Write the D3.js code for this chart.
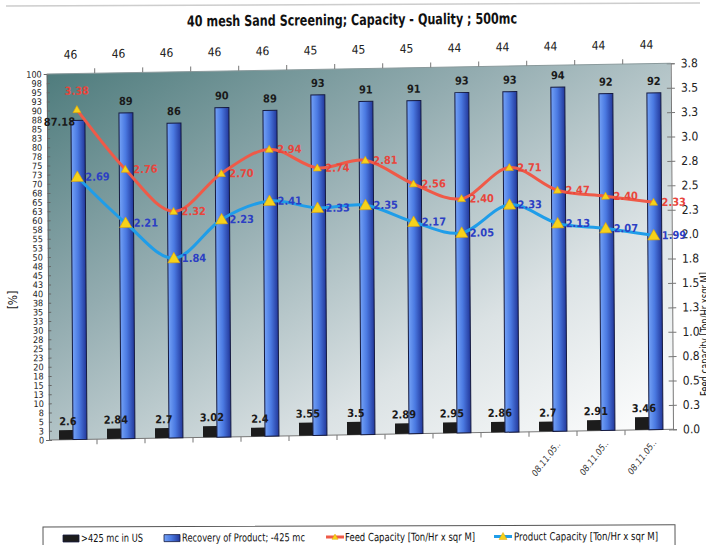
<!DOCTYPE html>
<html>
<head>
<meta charset="utf-8">
<script src="https://cdn.jsdelivr.net/npm/d3@7/dist/d3.min.js"></script>
<style>
  body { margin: 0; background: #fff; }
  svg { display: block; }
</style>
</head>
<body>
<div id="chart"></div>
<script>
// chart data
var categories = ['', '', '', '', '', '', '', '', '', '', '08.11.05..', '08.11.05..', '08.11.05..'];
var topLabels = [46, 46, 46, 46, 46, 45, 45, 45, 44, 44, 44, 44, 44];
var oversize = [2.6, 2.84, 2.7, 3.02, 2.4, 3.55, 3.5, 2.89, 2.95, 2.86, 2.7, 2.91, 3.46];
var recovery = [87.18, 89, 86, 90, 89, 93, 91, 91, 93, 93, 94, 92, 92];
var feedCapacity = [3.38, 2.76, 2.32, 2.70, 2.94, 2.74, 2.81, 2.56, 2.40, 2.71, 2.47, 2.40, 2.33];
var productCapacity = [2.69, 2.21, 1.84, 2.23, 2.41, 2.33, 2.35, 2.17, 2.05, 2.33, 2.13, 2.07, 1.99];
var legendNames = ['>425 mc in US', 'Recovery of Product; -425 mc',
    'Feed Capacity [Ton/Hr x sqr M]', 'Product Capacity [Ton/Hr x sqr M]'];

var svgWidth = 706, svgHeight = 545;
var plotLeft = 47, plotTop = 69, plotW = 624, plotH = 367;
var plotBottom = plotTop + plotH, plotRight = plotLeft + plotW;
var narrow = '"Liberation Sans Narrow", "Arial Narrow", "DejaVu Sans Condensed", "Liberation Sans", sans-serif';
var redColor = '#ef5a48', blueLine = '#1f9de9';

window.onload = function() {
    render();
};

function render() {
    var svg = d3.select('#chart').append('svg')
        .attr('width', svgWidth)
        .attr('height', svgHeight);

    makeDefs(svg);

    // faint scan edge at the very top
    svg.append('line')
        .attr('x1', 6).attr('y1', 6).attr('x2', 700).attr('y2', 3)
        .attr('stroke', '#b8b8b8').attr('stroke-width', 1.5).attr('opacity', 0.7);

    svg.append('text')
        .attr('x', 352).attr('y', 25)
        .attr('transform', 'rotate(-0.5, 352, 20)')
        .attr('text-anchor', 'middle')
        .attr('textLength', 330).attr('lengthAdjust', 'spacingAndGlyphs')
        .style('font-family', narrow).style('font-size', '15px').style('font-weight', 'bold')
        .attr('fill', '#111')
        .text('40 mesh Sand Screening; Capacity - Quality ; 500mc');

    // the sheet was scanned a bit crooked, so the plot is skewed slightly
    var g = svg.append('g')
        .attr('transform', 'matrix(1, -0.01715, 0.00627, 0.9973, -0.733, 6.0)');

    var x = d3.scaleBand().domain(d3.range(categories.length)).range([plotLeft, plotRight]);
    var inner = d3.scaleBand().domain(['fine', 'rec']).range([0, x.bandwidth()])
        .paddingInner(0).paddingOuter(0.72);
    var yL = d3.scaleLinear().domain([0, 100]).range([plotBottom, plotTop]);
    var yR = d3.scaleLinear().domain([0, 3.75]).range([plotBottom, plotTop]);

    g.append('rect')
        .attr('x', plotLeft).attr('y', plotTop).attr('width', plotW).attr('height', plotH)
        .attr('fill', 'url(#plotBg)');

    // left axis
    var axisL = g.append('g')
        .attr('transform', 'translate(' + plotLeft + ',0)')
        .call(d3.axisLeft(yL).tickValues(d3.range(0, 100.01, 2.5))
            .tickFormat(function(d) { return Math.round(d); })
            .tickSize(3).tickPadding(2));
    styleAxis(axisL, '#666');
    axisL.selectAll('.tick line').attr('x2', 3);
    axisL.selectAll('text').style('font-size', '9px').attr('fill', '#222');

    // right axis
    var axisR = g.append('g')
        .attr('transform', 'translate(' + plotRight + ',0)')
        .call(d3.axisRight(yR).tickValues(d3.range(0, 3.76, 0.25))
            .tickFormat(function(d) { return d.toFixed(1); })
            .tickSize(4).tickPadding(6));
    styleAxis(axisR, '#777');
    axisR.selectAll('.tick line').attr('x1', -4);
    axisR.selectAll('text').style('font-size', '12px').attr('fill', '#222');

    // top and bottom category axes, ticks on the band edges
    var edges = d3.range(categories.length + 1).map(function(i) { return plotLeft + i * x.step(); });
    g.append('line').attr('x1', plotLeft).attr('x2', plotRight).attr('y1', plotTop).attr('y2', plotTop)
        .attr('stroke', '#8a9a9c').attr('stroke-width', 1);
    g.append('line').attr('x1', plotLeft).attr('x2', plotRight).attr('y1', plotBottom).attr('y2', plotBottom)
        .attr('stroke', '#777').attr('stroke-width', 1);
    g.selectAll('.topTick').data(edges.slice(1, -1)).enter().append('line')
        .attr('x1', function(d) { return d; }).attr('x2', function(d) { return d; })
        .attr('y1', plotTop - 5).attr('y2', plotTop)
        .attr('stroke', '#777');
    g.selectAll('.botTick').data(edges.slice(1, -1)).enter().append('line')
        .attr('x1', function(d) { return d; }).attr('x2', function(d) { return d; })
        .attr('y1', plotBottom).attr('y2', plotBottom + 5)
        .attr('stroke', '#777');

    g.selectAll('.topLabel').data(topLabels).enter().append('text')
        .attr('x', function(d, i) { return x(i) + x.bandwidth() / 2; })
        .attr('y', plotTop - 15)
        .attr('text-anchor', 'middle')
        .style('font-family', narrow).style('font-size', '12px')
        .attr('fill', '#222')
        .text(function(d) { return d; });

    g.selectAll('.catLabel').data(categories).enter().append('text')
        .attr('transform', function(d, i) {
            return 'translate(' + (x(i) + x.bandwidth() / 2 + 8) + ',' + (plotBottom + 13) + ') rotate(-52)';
        })
        .attr('text-anchor', 'end')
        .style('font-family', narrow).style('font-size', '9px').style('font-style', 'italic')
        .attr('fill', '#333')
        .text(function(d) { return d; });

    // bars
    g.selectAll('.fine').data(oversize).enter().append('rect')
        .attr('x', function(d, i) { return x(i) + inner('fine'); })
        .attr('y', function(d) { return yL(d); })
        .attr('width', inner.bandwidth())
        .attr('height', function(d) { return plotBottom - yL(d); })
        .attr('fill', '#1c1c1c');

    g.selectAll('.rec').data(recovery).enter().append('rect')
        .attr('x', function(d, i) { return x(i) + inner('rec'); })
        .attr('y', function(d) { return yL(d); })
        .attr('width', inner.bandwidth())
        .attr('height', function(d) { return plotBottom - yL(d); })
        .attr('fill', 'url(#barBlue)')
        .attr('stroke', '#151a40').attr('stroke-width', 1);

    g.selectAll('.fineLabel').data(oversize).enter().append('text')
        .attr('x', function(d, i) { return x(i) + inner('fine') + inner.bandwidth() / 2 + 2; })
        .attr('y', function(d) { return yL(d) - 5; })
        .attr('text-anchor', 'middle')
        .style('font-family', narrow).style('font-size', '11px').style('font-weight', 'bold')
        .attr('fill', '#1a1a1a')
        .text(function(d) { return d; });

    // first recovery label sits beside its bar, the rest above
    g.selectAll('.recLabel').data(recovery).enter().append('text')
        .attr('x', function(d, i) {
            return i === 0 ? x(i) + inner('rec') + 4 : x(i) + inner('rec') + inner.bandwidth() / 2;
        })
        .attr('y', function(d, i) { return i === 0 ? yL(d) + 5 : yL(d) - 8; })
        .attr('text-anchor', function(d, i) { return i === 0 ? 'end' : 'middle'; })
        .style('font-family', narrow).style('font-size', '11px').style('font-weight', 'bold')
        .attr('fill', '#1a1a1a')
        .text(function(d) { return d; });

    // capacity lines on the right axis
    var px = function(d, i) { return x(i) + inner('rec') + inner.bandwidth() / 2 - 1; };
    var line = d3.line().x(px).y(function(d) { return yR(d); }).curve(d3.curveCardinal.tension(0));

    drawSeries(g, feedCapacity, line, px, yR, redColor, '#e8453c', 4, true);
    drawSeries(g, productCapacity, line, px, yR, blueLine, '#2c3fc4', 6, false);

    makeLegend(svg);

    // axis title on the left
    svg.append('text')
        .attr('transform', 'translate(17,300) rotate(-90)')
        .attr('text-anchor', 'middle')
        .style('font-family', narrow).style('font-size', '12px')
        .attr('fill', '#222')
        .text('[%]');

    // right title, cut by the page edge in the scan
    svg.append('text')
        .attr('transform', 'translate(709,396) rotate(-90)')
        .attr('text-anchor', 'start')
        .attr('textLength', 124).attr('lengthAdjust', 'spacingAndGlyphs')
        .style('font-family', narrow).style('font-size', '12px')
        .attr('fill', '#222')
        .text('Feed capacity [Ton/Hr xsqr M]');
}

function styleAxis(axis, color) {
    axis.select('.domain').attr('stroke', color);
    axis.selectAll('.tick line').attr('stroke', color);
    axis.selectAll('text').style('font-family', narrow);
}

function drawSeries(g, values, line, px, y, color, labelColor, markSize, firstAbove) {
    g.append('path')
        .datum(values)
        .attr('d', line)
        .attr('fill', 'none')
        .attr('stroke', color)
        .attr('stroke-width', 3);

    g.selectAll(null).data(values).enter().append('path')
        .attr('d', function(d, i) { return triangle(px(d, i), y(d), markSize); })
        .attr('fill', '#f6d21a')
        .attr('stroke', '#e2a400').attr('stroke-width', 0.6);

    g.selectAll(null).data(values).enter().append('text')
        .attr('x', function(d, i) { return firstAbove && i === 0 ? px(d, i) : px(d, i) + 8; })
        .attr('y', function(d, i) { return firstAbove && i === 0 ? y(d) - 15 : y(d) + 4; })
        .attr('text-anchor', function(d, i) { return firstAbove && i === 0 ? 'middle' : 'start'; })
        .style('font-family', narrow).style('font-size', '11px').style('font-weight', 'bold')
        .attr('fill', labelColor)
        .text(function(d) { return d.toFixed(2); });
}

function triangle(cx, cy, s) {
    return 'M' + cx + ',' + (cy - s) + 'L' + (cx + s) + ',' + (cy + s * 0.75) +
        'L' + (cx - s) + ',' + (cy + s * 0.75) + 'Z';
}

function makeDefs(svg) {
    var defs = svg.append('defs');

    var bg = defs.append('linearGradient').attr('id', 'plotBg')
        .attr('x1', 0).attr('y1', 0).attr('x2', 1).attr('y2', 1);
    bg.append('stop').attr('offset', 0).attr('stop-color', '#4f7c7d');
    bg.append('stop').attr('offset', 0.35).attr('stop-color', '#93acb0');
    bg.append('stop').attr('offset', 0.7).attr('stop-color', '#dbe2e4');
    bg.append('stop').attr('offset', 1).attr('stop-color', '#ffffff');

    var bar = defs.append('linearGradient').attr('id', 'barBlue')
        .attr('x1', 0).attr('y1', 0).attr('x2', 1).attr('y2', 0);
    bar.append('stop').attr('offset', 0).attr('stop-color', '#74a2f6');
    bar.append('stop').attr('offset', 0.45).attr('stop-color', '#4b7ae2');
    bar.append('stop').attr('offset', 1).attr('stop-color', '#22379a');
}

function makeLegend(svg) {
    var lg = svg.append('g').attr('transform', 'rotate(-0.2, 350, 530)');

    lg.append('rect')
        .attr('x', 43).attr('y', 526).attr('width', 632).attr('height', 30)
        .attr('fill', '#fff').attr('stroke', '#555').attr('stroke-width', 1);

    var textY = 541;
    var items = [
        { sx: 63, tx: 81, w: 62, kind: 'fine' },
        { sx: 164, tx: 182, w: 123, kind: 'rec' },
        { sx: 326, tx: 345, w: 130, kind: 'feed' },
        { sx: 494, tx: 514, w: 144, kind: 'product' }
    ];

    items.forEach(function(it, i) {
        if (it.kind === 'fine' || it.kind === 'rec') {
            lg.append('rect')
                .attr('x', it.sx).attr('y', textY - 7).attr('width', 16).attr('height', 7)
                .attr('fill', it.kind === 'fine' ? '#1c1c1c' : 'url(#barBlue)')
                .attr('stroke', '#151a40').attr('stroke-width', 0.8);
        } else {
            var c = it.kind === 'feed' ? redColor : blueLine;
            lg.append('line')
                .attr('x1', it.sx).attr('x2', it.sx + 18)
                .attr('y1', textY - 4).attr('y2', textY - 4)
                .attr('stroke', c).attr('stroke-width', 3);
            lg.append('path')
                .attr('d', triangle(it.sx + 9, textY - 4, it.kind === 'feed' ? 3 : 4))
                .attr('fill', '#f6d21a').attr('stroke', '#e2a400').attr('stroke-width', 0.5);
        }
        lg.append('text')
            .attr('x', it.tx).attr('y', textY)
            .attr('textLength', it.w).attr('lengthAdjust', 'spacingAndGlyphs')
            .style('font-family', narrow).style('font-size', '11px')
            .attr('fill', '#111')
            .text(legendNames[i]);
    });
}
</script>
</body>
</html>
